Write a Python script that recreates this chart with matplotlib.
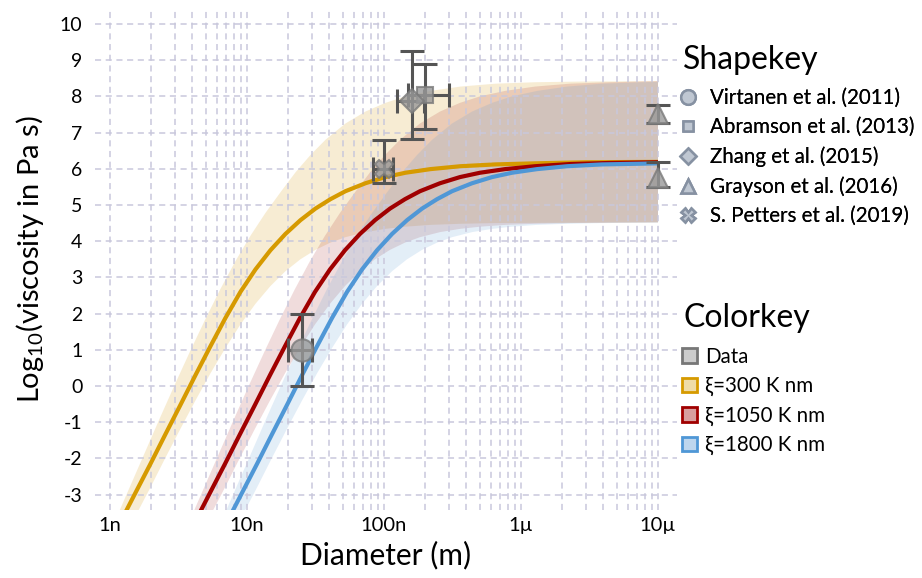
import numpy as np
import matplotlib
matplotlib.use("Agg")
import matplotlib.pyplot as plt
from matplotlib.lines import Line2D
from matplotlib.patches import Patch
from matplotlib.ticker import FixedLocator, NullFormatter

plt.rcParams['font.family'] = ['Lato', 'DejaVu Sans']
plt.rcParams['mathtext.fontset'] = 'custom'
plt.rcParams['mathtext.rm'] = 'Lato'
plt.rcParams['mathtext.default'] = 'regular'
plt.rcParams['axes.unicode_minus'] = False

# model curves, diameter in nm, log10 viscosity
ORANGE_D = [1.213, 1.534, 1.974, 2.540, 3.269, 4.206, 5.411, 6.963, 8.96,
            11.53, 14.83, 19.08, 24.55, 31.6, 40.66, 52.31, 73.23, 102.5,
            143.4, 218.3, 361.6, 651.1, 1275, 3000, 10000]
ORANGE_V = [-3.7, -2.95, -2.15, -1.33, -0.52, 0.3, 1.1, 1.88, 2.6,
            3.22, 3.75, 4.2, 4.58, 4.9, 5.16, 5.38, 5.6, 5.77,
            5.89, 5.99, 6.07, 6.12, 6.15, 6.18, 6.19]
RED_D = [4.244, 5.370, 6.910, 8.889, 11.44, 14.72, 18.94, 24.37, 31.36,
         40.35, 51.91, 66.79, 85.94, 110.6, 142.3, 183.1, 256.3, 358.6,
         502.0, 764.1, 1265.5, 2279, 4463, 10000]
RED_V = [-3.7, -2.95, -2.15, -1.33, -0.52, 0.3, 1.1, 1.88, 2.6,
         3.22, 3.75, 4.2, 4.58, 4.9, 5.16, 5.38, 5.6, 5.77,
         5.89, 5.99, 6.07, 6.13, 6.16, 6.18]
BLUE_D = [7.27, 9.20, 11.84, 15.24, 19.61, 25.23, 32.46, 41.77, 53.75,
          69.16, 88.97, 114.5, 147.3, 189.6, 243.9, 313.8, 439.3, 614.6,
          860.4, 1310, 2169, 3906, 7650, 10000]
BLUE_V = [-3.7, -2.95, -2.15, -1.33, -0.52, 0.3, 1.1, 1.88, 2.6,
          3.22, 3.75, 4.2, 4.58, 4.9, 5.16, 5.38, 5.6, 5.77,
          5.89, 5.99, 6.07, 6.12, 6.14, 6.15]

# uncertainty bands, upper and lower edges
ORANGE_UP_D = [1.096, 1.410, 1.815, 2.335, 3.006, 3.866, 4.974, 6.4, 8.237,
               10.6, 13.64, 17.55, 22.58, 29.06, 37.4, 52.31, 73.23, 102.5,
               143.4, 218.3, 361.6, 651.1, 1275, 2900, 10000]
ORANGE_UP_V = [-3.7, -2.75, -1.8, -0.85, 0.08, 0.98, 1.85, 2.68, 3.45,
               4.15, 4.78, 5.35, 5.9, 6.38, 6.8, 7.25, 7.58, 7.82,
               8.0, 8.15, 8.27, 8.35, 8.39, 8.41, 8.42]
ORANGE_LO_D = [1.484, 1.974, 2.540, 3.269, 4.206, 5.411, 6.963, 8.96, 11.53,
               14.83, 19.08, 24.55, 31.6, 40.66, 52.31, 73.23, 102.5, 143.4,
               218.3, 361.6, 651.1, 10000]
ORANGE_LO_V = [-3.7, -2.8, -1.98, -1.18, -0.4, 0.35, 1.05, 1.7, 2.27,
               2.76, 3.17, 3.5, 3.76, 3.96, 4.11, 4.25, 4.34, 4.4,
               4.45, 4.48, 4.5, 4.52]
RED_UP_D = [3.837, 4.936, 6.352, 8.173, 10.52, 13.53, 17.41, 22.40, 28.83,
            37.10, 47.73, 61.42, 79.03, 101.7, 130.9, 183.1, 256.3, 358.6,
            502.0, 764.1, 1265.5, 2279, 4463, 10000]
RED_UP_V = [-3.7, -2.75, -1.8, -0.85, 0.08, 0.98, 1.85, 2.68, 3.45,
            4.15, 4.78, 5.35, 5.9, 6.38, 6.8, 7.25, 7.58, 7.82,
            8.0, 8.15, 8.27, 8.35, 8.39, 8.42]
RED_LO_D = [5.193, 6.910, 8.889, 11.44, 14.72, 18.94, 24.37, 31.36, 40.35,
            51.91, 66.79, 85.94, 110.6, 142.3, 183.1, 256.3, 358.6, 502.0,
            764.1, 1265.5, 2279, 10000]
RED_LO_V = [-3.7, -2.8, -1.98, -1.18, -0.4, 0.35, 1.05, 1.7, 2.27,
            2.76, 3.17, 3.5, 3.76, 3.96, 4.11, 4.25, 4.34, 4.4,
            4.45, 4.48, 4.5, 4.52]
BLUE_UP_D = [6.577, 8.46, 10.89, 14.01, 18.03, 23.19, 29.84, 38.39, 49.42,
             63.59, 81.81, 105.3, 135.5, 174.3, 224.4, 313.8, 439.3, 614.6,
             860.4, 1310, 2169, 3906, 7650, 10000]
BLUE_UP_V = [-3.7, -2.75, -1.8, -0.85, 0.08, 0.98, 1.85, 2.68, 3.45,
             4.15, 4.78, 5.35, 5.9, 6.38, 6.8, 7.25, 7.58, 7.82,
             8.0, 8.15, 8.27, 8.35, 8.39, 8.4]
BLUE_LO_D = [8.90, 11.84, 15.24, 19.61, 25.23, 32.46, 41.77, 53.75, 69.16,
             88.97, 114.5, 147.3, 189.6, 243.9, 313.8, 439.3, 614.6, 860.4,
             1310, 2169, 3906, 10000]
BLUE_LO_V = [-3.7, -2.8, -1.98, -1.18, -0.4, 0.35, 1.05, 1.7, 2.27,
             2.76, 3.17, 3.5, 3.76, 3.96, 4.11, 4.25, 4.34, 4.4,
             4.45, 4.48, 4.5, 4.51]

# measurements: diameter nm, value, x err (lo, hi), y err (lo, hi)
VIRTANEN = dict(d=[25], v=[1.0], xe=[[5], [5]], ye=[[1.0], [1.0]])
ABRAMSON = dict(d=[200], v=[8.05], xe=[[50], [100]], ye=[[0.95], [0.85]])
ZHANG = dict(d=[160], v=[7.87], xe=[[36], [36]], ye=[[1.05], [1.38]])
GRAYSON = dict(d=[10000, 10000], v=[7.5, 5.75], xe=None,
               ye=[[0.25, 0.25], [0.25, 0.45]])
PETTERS = dict(d=[100], v=[6.0], xe=[[17], [16]], ye=[[0.4], [0.8]])

SHAPE_LABELS = ['Virtanen et al. (2011)', 'Abramson et al. (2013)',
                'Zhang et al. (2015)', 'Grayson et al. (2016)',
                'S. Petters et al. (2019)']
COLOR_LABELS = ['Data', 'ξ=300 K nm', 'ξ=1050 K nm', 'ξ=1800 K nm']
XTICKS = [1e-9, 1e-8, 1e-7, 1e-6, 1e-5]
XTICK_LABELS = ['1n', '10n', '100n', '1µ', '10µ']
YTICKS = list(range(-3, 11))

ORANGE = '#d69a00'
RED = '#a00000'
BLUE = '#4f97d6'
GRID = '#c9c8dc'
ERR = '#555555'


def nm(a):
    return np.array(a) * 1e-9


def band(ax, up_d, up_v, lo_d, lo_v, color, alpha):
    xs = np.concatenate([nm(up_d), nm(lo_d)[::-1]])
    ys = np.concatenate([up_v, lo_v[::-1]])
    ax.fill(xs, ys, color=color, alpha=alpha, lw=0, zorder=1)


def main():
    fig = plt.figure(figsize=(9.22, 5.78), dpi=100)
    ax = fig.add_axes([95 / 922, 1 - 510 / 578, 582 / 922, 502 / 578])
    ax.set_xscale('log')

    band(ax, ORANGE_UP_D, ORANGE_UP_V, ORANGE_LO_D, ORANGE_LO_V, '#e6c270', 0.3)
    band(ax, RED_UP_D, RED_UP_V, RED_LO_D, RED_LO_V, '#a01515', 0.15)
    band(ax, BLUE_UP_D, BLUE_UP_V, BLUE_LO_D, BLUE_LO_V, '#5b9bd5', 0.17)

    for d, v, c in [(ORANGE_D, ORANGE_V, ORANGE), (RED_D, RED_V, RED),
                    (BLUE_D, BLUE_V, BLUE)]:
        ax.plot(nm(d), v, color=c, lw=3, zorder=3, solid_capstyle='butt',
                solid_joinstyle='round')

    pts = [(VIRTANEN, 'o', 16), (ABRAMSON, 's', 12), (ZHANG, 'D', 12),
           (GRAYSON, '^', 15), (PETTERS, 'X', 13)]
    for p, mk, ms in pts:
        xe = None if p['xe'] is None else nm(p['xe'])
        ax.errorbar(nm(p['d']), p['v'], xerr=xe, yerr=p['ye'], fmt='none',
                    ecolor=ERR, elinewidth=2.2, capsize=8.5, capthick=2.2,
                    zorder=4)
        ax.plot(nm(p['d']), p['v'], linestyle='none', marker=mk, ms=ms,
                mfc='#999999', mec='#7a7a7a', mew=1.5, alpha=0.8, zorder=5)

    ax.set_xlim(10 ** (-9 - 15 / 137), 10 ** (-9 + 567 / 137))
    ax.set_ylim(-3.425, 10.44)
    ax.xaxis.set_major_locator(FixedLocator(XTICKS))
    ax.set_xticklabels(XTICK_LABELS)
    minors = [m * t for t in XTICKS[:-1] for m in range(2, 10)]
    ax.xaxis.set_minor_locator(FixedLocator(minors))
    ax.xaxis.set_minor_formatter(NullFormatter())
    ax.set_yticks(YTICKS)
    ax.set_yticklabels([str(t) for t in YTICKS])
    ax.tick_params(axis='both', which='both', length=0)
    ax.tick_params(axis='x', labelsize=14.5, pad=5)
    ax.tick_params(axis='y', labelsize=14, pad=9)
    ax.set_axisbelow('line')
    ax.grid(True, which='both', axis='x', color=GRID, ls=(0, (4, 3)), lw=1.1)
    ax.grid(True, which='major', axis='y', color=GRID, ls=(0, (4, 3)), lw=1.1)
    for s in ax.spines.values():
        s.set_visible(False)

    ax.set_xlabel('Diameter (m)', fontsize=21.5, labelpad=5)
    ax.set_ylabel('Log$_{10}$(viscosity in Pa s)', fontsize=21, labelpad=10)

    # legend titles as plain text
    fig.text(683 / 922, 1 - 60 / 578, 'Shapekey', fontsize=23, va='center')
    fig.text(683 / 922, 1 - 318 / 578, 'Colorkey', fontsize=23, va='center')

    key_face = '#bfc7d2'
    key_edge = '#8691a2'
    shapes = ['o', 's', 'D', '^', 'X']
    sizes = [10.5, 7.5, 8.5, 10, 9.5]
    h1 = [Line2D([], [], ls='none', marker=m, ms=s, mfc=key_face,
                 mec=key_edge, mew=1.8) for m, s in zip(shapes, sizes)]
    leg1 = fig.legend(h1, SHAPE_LABELS, loc='upper left',
                      bbox_to_anchor=(678 / 922, 1 - 88 / 578), frameon=False,
                      fontsize=14.8, handlelength=0.95, handletextpad=0.6,
                      labelspacing=0.45, borderpad=0, borderaxespad=0)
    fig.add_artist(leg1)

    faces = ['#cccccc', '#efdca8', '#d8a0a0', '#bdd6ee']
    edges = ['#777777', ORANGE, RED, BLUE]
    h2 = [Patch(facecolor=f, edgecolor=e, lw=2) for f, e in zip(faces, edges)]
    fig.legend(h2, COLOR_LABELS, loc='upper left',
               bbox_to_anchor=(682 / 922, 1 - 347 / 578), frameon=False,
               fontsize=14.8, handlelength=0.72, handleheight=0.72,
               handletextpad=0.4, labelspacing=0.45, borderpad=0,
               borderaxespad=0)

    fig.savefig('out.png', dpi=100)


if __name__ == "__main__":
    main()
